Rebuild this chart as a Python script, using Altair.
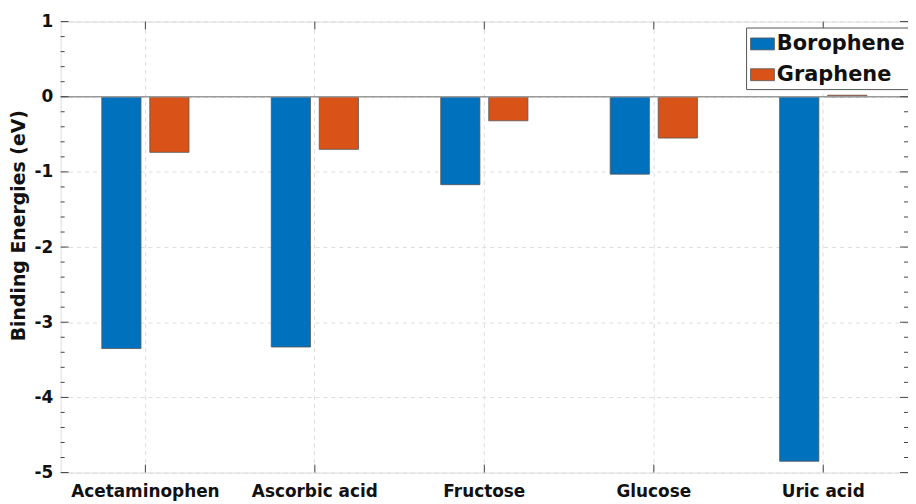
import altair as alt
import pandas as pd

categories = ["Acetaminophen", "Ascorbic acid", "Fructose", "Glucose", "Uric acid"]
materials = ["Borophene", "Graphene"]
borophene = [-3.35, -3.33, -1.17, -1.03, -4.85]
graphene = [-0.74, -0.70, -0.32, -0.55, 0.02]
colors = ["#0072BD", "#D95319"]
y_major = [-5, -4, -3, -2, -1, 0, 1]
y_minor = [-4.8, -4.6, -4.4, -4.2, -3.8, -3.6, -3.4, -3.2, -2.8, -2.6, -2.4, -2.2,
           -1.8, -1.6, -1.4, -1.2, -0.8, -0.6, -0.4, -0.2, 0.2, 0.4, 0.6, 0.8]

rows = []
for c, b, g in zip(categories, borophene, graphene):
    rows.append({"Molecule": c, "Material": "Borophene", "Energy": b})
    rows.append({"Molecule": c, "Material": "Graphene", "Energy": g})
df = pd.DataFrame(rows)

W, H = 853, 454
FONT = "DejaVu Sans"

xscale = alt.Scale(domain=categories, paddingInner=0, paddingOuter=0)
yscale = alt.Scale(domain=[-5, 1], nice=False)

x_enc = alt.X("Molecule:N", sort=categories, scale=xscale, bandPosition=0.5,
              axis=alt.Axis(title=None, labelAngle=0, ticks=False, domain=False,
                            grid=True, bandPosition=0.5, gridDash=[4, 4], gridColor="#dddddd",
                            labelFont=FONT, labelFontWeight="bold", labelFontSize=17,
                            labelColor="#111", labelPadding=11))
y_enc = alt.Y("Energy:Q", scale=yscale,
              axis=alt.Axis(title="Binding Energies (eV)", values=y_major, ticks=False, domain=False,
                            grid=True, gridDash=[4, 4], gridColor="#dddddd",
                            labelExpr="'' + datum.value",
                            labelFont=FONT, labelFontWeight="bold", labelFontSize=17,
                            labelColor="#111", labelPadding=8,
                            titleFont=FONT, titleFontWeight="bold", titleFontSize=19,
                            titleColor="#111", titleX=-42, titleY=205,
                            titleBaseline="middle", titleAlign="center", titleAngle=270))

bars = alt.Chart(df).mark_bar(stroke="#555", strokeWidth=0.8).encode(
    x=x_enc,
    xOffset=alt.XOffset("Material:N", sort=materials,
                        scale=alt.Scale(paddingInner=0.1837, paddingOuter=0.857)),
    y=y_enc,
    color=alt.Color("Material:N", sort=materials,
                    scale=alt.Scale(domain=materials, range=colors),
                    legend=alt.Legend(title=None, orient="none", legendX=690, legendY=6,
                                      strokeColor="#555", fillColor="white", padding=4,
                                      symbolType="M-1,-0.5H1V0.5H-1Z", symbolSize=576,
                                      symbolStrokeColor="#555", symbolStrokeWidth=0.8,
                                      labelFont=FONT, labelFontWeight="bold", labelFontSize=21,
                                      labelColor="#111", rowPadding=8, labelOffset=2)),
)

zero = alt.Chart(pd.DataFrame({"v": [0]})).mark_rule(color="#9a9a9a", strokeWidth=1.5).encode(
    y=alt.Y("v:Q", scale=yscale)
)

major_df = pd.DataFrame({"v": y_major})
minor_df = pd.DataFrame({"v": y_minor})
lt_major = alt.Chart(major_df).mark_rule(color="#444", strokeWidth=1).encode(
    y=alt.Y("v:Q", scale=yscale), x=alt.value(0), x2=alt.value(8))
lt_minor = alt.Chart(minor_df).mark_rule(color="#444", strokeWidth=1).encode(
    y=alt.Y("v:Q", scale=yscale), x=alt.value(0), x2=alt.value(4))
rt_major = alt.Chart(major_df).mark_rule(color="#444", strokeWidth=1).encode(
    y=alt.Y("v:Q", scale=yscale), x=alt.value(W - 8), x2=alt.value(W))
rt_minor = alt.Chart(minor_df).mark_rule(color="#444", strokeWidth=1).encode(
    y=alt.Y("v:Q", scale=yscale), x=alt.value(W - 4), x2=alt.value(W))

cat_df = pd.DataFrame({"Molecule": categories})
cx = alt.X("Molecule:N", sort=categories, scale=xscale, bandPosition=0.5)
top_ticks = alt.Chart(cat_df).mark_rule(color="#444", strokeWidth=1).encode(
    x=cx, y=alt.value(0), y2=alt.value(8))
bot_ticks = alt.Chart(cat_df).mark_rule(color="#444", strokeWidth=1).encode(
    x=cx, y=alt.value(H - 8), y2=alt.value(H))

chart = alt.layer(bars, zero, lt_major, lt_minor, rt_major, rt_minor, top_ticks, bot_ticks).properties(
    width=W, height=H,
    autosize=alt.AutoSizeParams(type="none"),
    padding={"left": 53, "top": 12, "right": 0, "bottom": 30},
).configure_view(stroke="#444", strokeWidth=1.5).configure(background="white")

chart.save("out.html", embed_options={"renderer": "svg", "actions": False})
